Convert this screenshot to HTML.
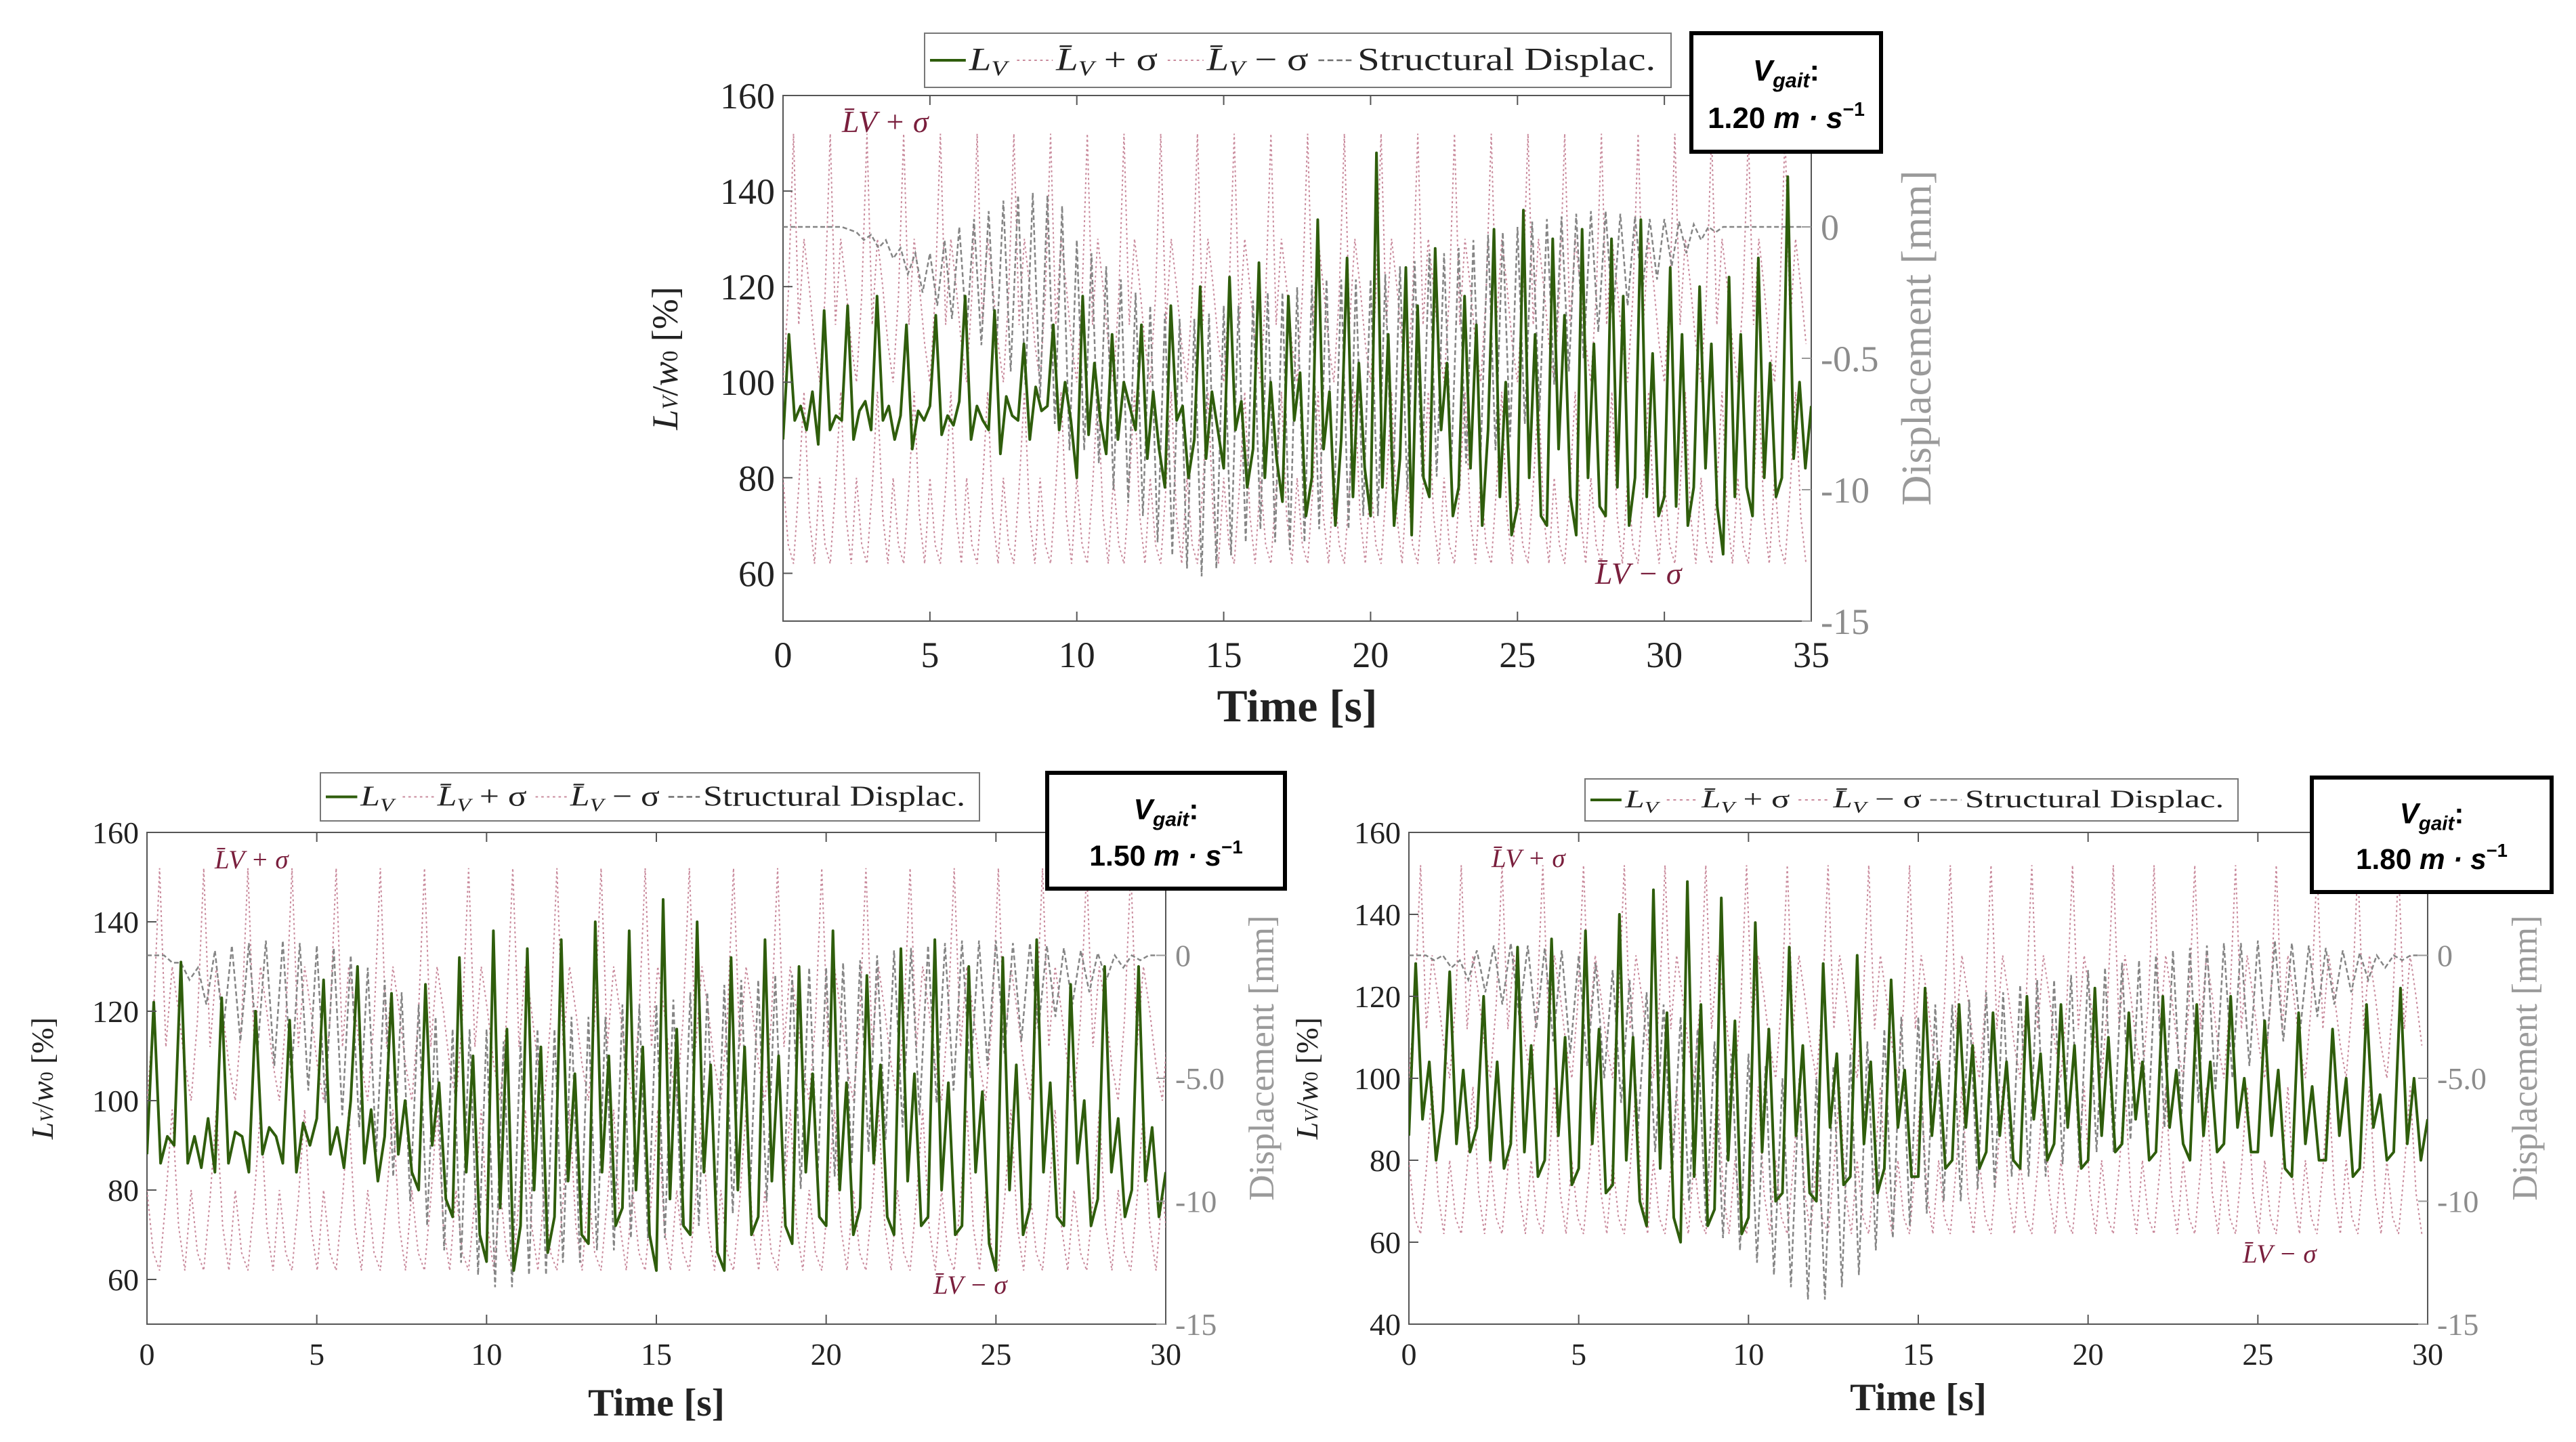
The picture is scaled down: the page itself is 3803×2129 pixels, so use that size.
<!DOCTYPE html>
<html><head><meta charset="utf-8">
<style>
html,body{margin:0;padding:0;background:#fff;}
svg{display:block;font-family:"Liberation Serif",serif;}
</style></head>
<body>
<svg id="root" width="3803" height="2129" viewBox="0 0 3803 2129" xmlns="http://www.w3.org/2000/svg"></svg>
<script>
// ===== DATA =====
// Top chart (1.20 m/s) — L_V / w0 [%], sampled every 0.2 s
const topTimeMax = 35;
const topLoad = [88,110,92,95,90, 98,87,115,90,93, 92,116,88,94,96, 90,118,92,95,88, 93,112,86,94,92,
95,114,89,93,91, 96,118,88,95,92, 90,115,85,97,93, 92,108,88,99,94, 95,112,90,100,92,
80,118,89,104,92, 85,110,88,100,95, 90,112,84,98,86, 78,116,92,95,80, 88,120,84,98,90,
82,122,90,96,78, 86,125,80,100,84, 75,118,92,102,72, 80,134,86,98,70, 88,126,76,104,82,
72,148,78,110,70, 84,124,68,116,80, 76,128,90,104,72, 78,118,82,112,70, 90,132,76,100,68,
74,136,80,110,72, 70,130,86,114,76, 68,132,80,108,74, 72,130,78,118,70, 80,134,76,106,72,
76,124,74,110,70, 78,120,82,108,74, 64,122,76,110,78, 72,126,80,104,76, 80,143,84,100,82, 95];
// displacement [mm], per 0.5 s cycle: max then min
const topDispMax = [0,0,0,0,0,-0.2,-0.3,-0.5,-0.8,-1, -1,-0.5,0,0.3,0.6,1,1.2,1.3,1.2,0.8,
-0.5,-1,-1.5,-2,-2.5,-3,-3.3,-3.5,-3.5,-3.3, -3,-3,-2.8,-2.5,-2.5,-2.3,-2.2,-2,-2,-2,
-2,-1.8,-1.5,-1.3,-1,-1,-0.8,-0.5,-0.3,-0.2, 0,0.2,0.3,0.4,0.5,0.6,0.6,0.5,0.4,0.3,
0.3,0.2,0.1,0,0,0,0,0,0,0];
const topDispMin = [0,0,0,0,-0.1,-0.5,-0.8,-1.2,-1.8,-2.5, -3,-3.5,-4,-4.5,-5,-5.5,-6,-6.5,-7.5,-8.5,
-8.5,-9,-10,-10.5,-11,-12,-12.5,-13,-13.3,-13, -12.5,-12,-11.5,-12,-12.3,-12,-11.5,-11,-11.5,-11,
-11,-10.5,-10,-9.5,-9.5,-9,-9,-8.5,-8.5,-8, -7.5,-7,-6,-5.5,-5,-4,-3.5,-3,-2.5,-2,
-1.5,-1,-0.5,-0.2,0,0,0,0,0,0];

// Bottom-left (1.50 m/s)
const blTimeMax = 30;
const blLoad = [88,122,86,92,90, 131,86,92,85,96, 84,123,86,93,92, 84,120,88,94,92, 86,118,84,95,90,
96,127,88,94,85, 100,130,86,98,82, 92,124,88,100,84, 80,126,90,104,78, 74,132,84,110,70,
64,138,76,116,62, 72,134,80,112,66, 74,136,82,106,70, 68,140,84,110,72, 76,138,80,112,70,
62,145,78,116,72, 70,140,84,108,66, 62,132,80,112,70, 74,136,82,110,72, 68,130,84,106,74,
72,138,80,104,70, 76,128,86,108,74, 70,134,82,106,72, 74,136,80,104,70, 72,130,84,102,68,
62,132,80,108,70, 76,136,84,104,74, 72,126,86,100,72, 78,130,84,96,74, 80,130,82,94,74, 84];
const blDispMax = [0,0,-0.3,-0.5,0.2,0.4,0.5,0.6,0.6,0.5, 0.4,0.3,0,-0.5,-1,-1.5,-2,-2.5,-3,-3,
-3,-3.5,-3.5,-3,-3,-2.5,-2.5,-2.5,-2,-2, -2,-1.8,-1.5,-1.5,-1.2,-1,-1,-0.8,-0.8,-0.5,
-0.5,-0.3,-0.2,0,0.2,0.3,0.4,0.5,0.6,0.6, 0.6,0.5,0.5,0.4,0.3,0.2,0.1,0,0,0];
const blDispMin = [0,-0.3,-1,-2,-3,-3.5,-4,-4.5,-5,-5.5, -6,-6.5,-7,-8,-9,-10,-11,-12,-12.5,-13,
-13.5,-13.5,-13,-13,-12.5,-12.5,-12,-12,-11.5,-11.5, -11.5,-11,-11,-10.5,-10.5,-10,-10,-9.5,-9.5,-9,
-9,-8.5,-8,-7.5,-7,-6.5,-6,-5.5,-5,-4.5, -4,-3.5,-3,-2.5,-2,-1.5,-1,-0.5,-0.2,0];

// Bottom-right (1.80 m/s)
const brTimeMax = 30;
const brLoad = [86,128,90,104,80, 92,126,84,102,82, 88,120,80,104,78, 84,132,82,108,76, 80,134,86,110,74,
78,136,84,112,72, 74,140,80,110,70, 64,146,78,116,66, 60,148,76,118,64, 68,144,80,114,62,
66,138,82,112,70, 72,132,86,108,72, 70,128,88,106,74, 76,130,84,104,72, 78,124,88,102,76,
76,122,86,104,78, 80,118,88,108,78, 82,116,86,104,80, 78,120,90,106,80, 84,118,88,108,78,
80,122,86,110,82, 84,116,90,104,80, 82,120,88,102,84, 80,118,86,104,82, 84,120,88,100,82,
82,114,86,102,78, 76,116,84,98,80, 80,112,86,100,76, 78,118,88,96,80, 82,122,84,100,80, 90];
const brDispMax = [0,0,0,-0.2,0.2,0.4,0.5,0.4,0.3,0.2, 0,-0.3,-0.6,-1,-1.5,-2,-2.5,-3,-3.5,-4,
-4,-4.5,-5,-5,-5,-4.5,-4,-3.5,-3,-2.5, -2.5,-2,-2,-1.8,-1.5,-1.5,-1.2,-1,-1,-0.8,
-0.6,-0.5,-0.3,-0.2,0,0.2,0.3,0.4,0.5,0.5, 0.6,0.6,0.5,0.4,0.3,0.2,0.1,0,0,0];
const brDispMin = [0,-0.2,-0.5,-1,-1.5,-2,-2.5,-3,-3.5,-4, -4.5,-5,-6,-7,-8,-9,-10,-11,-11.5,-12,
-12.5,-13,-13.5,-14,-14,-13.5,-13,-12,-11.5,-11, -10.5,-10,-10,-9.5,-9.5,-9,-9,-9,-8.5,-8.5,
-8,-8,-7.5,-7.5,-7,-6.5,-6,-5.5,-5,-4.5, -4,-3.5,-3,-2.5,-2,-1.5,-1,-0.5,-0.2,0];

// Mean ± sigma envelope: one gait-step template (values in %)
const upperStep = [100,118,152,112,130,120,108,100];
const lowerStep = [80,66,62,78,98,72,62,80];
const stepPeriods = [1.25, 1.3, 1.2]; // seconds per step for top, bottom-left, bottom-right

const yTicksA = [60,80,100,120,140,160];
const yTicksB = [40,60,80,100,120,140,160];
const rTickVals = [0,-5,-10,-15];
const rTickLabelsTop = ['0','-0.5','-10','-15'];
const rTickLabelsBot = ['0','-5.0','-10','-15'];
const speeds = ['1.20','1.50','1.80'];

// ===== DRAW =====
const NS='http://www.w3.org/2000/svg';
const root=document.getElementById('root');
function mk(tag,attrs,parent){const e=document.createElementNS(NS,tag);for(const k in attrs)e.setAttribute(k,attrs[k]);(parent||root).appendChild(e);return e;}
const ENV='#c98a9c';

function drawChart(c){
  const g=mk('g',{});
  
  
  const sx=t=>c.L+(t/c.xmax)*(c.R-c.L);
  const sy=v=>c.B-(v-c.ymin)/(c.ymax-c.ymin)*(c.B-c.T);
  const sr=v=>c.B-(v-(-15))/(5-(-15))*(c.B-c.T);
  const clip='clip-'+c.name;
  const cp=mk('clipPath',{id:clip},g);mk('rect',{x:c.L,y:c.T,width:c.R-c.L,height:c.B-c.T},cp);
  const frame=mk('rect',{x:c.L,y:c.T,width:c.R-c.L,height:c.B-c.T,fill:'none',stroke:'#555','stroke-width':2},g);
  
  
  const n=upperStep.length-1;
  let up='',lo='';
  const steps=Math.ceil(c.xmax/c.period);
  for(let s=0;s<steps;s++){for(let i=0;i<n;i++){const t=(s+i/n)*c.period;up+=(up?'L':'M')+sx(t).toFixed(1)+','+sy(upperStep[i]).toFixed(1);lo+=(lo?'L':'M')+sx(t).toFixed(1)+','+sy(lowerStep[i]).toFixed(1);}}
  const pu=mk('path',{d:up,fill:'none',stroke:ENV,'stroke-width':2,'stroke-dasharray':'3 4','clip-path':'url(#'+clip+')'},g);
  
  
  const pl=mk('path',{d:lo,fill:'none',stroke:ENV,'stroke-width':2,'stroke-dasharray':'3 4','clip-path':'url(#'+clip+')'},g);
  
  
  let dd='';
  for(let i=0;i<c.dmax.length;i++){const t0=i*0.5;dd+=(dd?'L':'M')+sx(t0).toFixed(1)+','+sr(c.dmax[i]).toFixed(1)+'L'+sx(t0+0.25).toFixed(1)+','+sr(c.dmin[i]).toFixed(1);}
  const pd=mk('path',{d:dd,fill:'none',stroke:'#858585','stroke-width':2.5,'stroke-dasharray':'7 4','clip-path':'url(#'+clip+')'},g);
  
  
  let ld='';
  c.load.forEach((v,i)=>{ld+=(i?'L':'M')+sx(i*0.2).toFixed(1)+','+sy(v).toFixed(1);});
  const pg=mk('path',{d:ld,fill:'none',stroke:'#2f5d0c','stroke-width':4,'stroke-linejoin':'round','clip-path':'url(#'+clip+')'},g);
  
  
  for(let t=0;t<=c.xmax;t+=5){
    mk('line',{x1:sx(t),x2:sx(t),y1:c.B,y2:c.B-14,stroke:'#555','stroke-width':2},g);
    mk('line',{x1:sx(t),x2:sx(t),y1:c.T,y2:c.T+14,stroke:'#555','stroke-width':2},g);
    const tx=mk('text',{x:sx(t),y:c.B+c.fs+14,'font-size':c.fs,'text-anchor':'middle',fill:'#222'},g);
    tx.textContent=t;
    
    
  }
  c.yticks.forEach(v=>{
    mk('line',{x1:c.L,x2:c.L+14,y1:sy(v),y2:sy(v),stroke:'#555','stroke-width':2},g);
    const ty=mk('text',{x:c.L-12,y:sy(v)+c.fs*0.35,'font-size':c.fs,'text-anchor':'end',fill:'#222'},g);
    ty.textContent=v;
    
    
  });
  rTickVals.forEach((v,i)=>{
    mk('line',{x1:c.R,x2:c.R-14,y1:sr(v),y2:sr(v),stroke:'#999','stroke-width':2},g);
    const tr=mk('text',{x:c.R+14,y:sr(v)+c.fs*0.35,'font-size':c.fs,fill:'#8c8c8c'},g);
    tr.textContent=c.rlabels[i];
    
    
  });
  const xl=mk('text',{x:(c.L+c.R)/2,y:c.xlY,'font-size':c.fs*1.25,'font-weight':'bold','text-anchor':'middle',fill:'#222'},g);
  xl.textContent='Time [s]';
  
  
  const yl=mk('text',{x:0,y:0,'font-size':c.fs*1.0,'text-anchor':'middle',fill:'#222',transform:`translate(${c.ylX},${(c.T+c.B)/2}) rotate(-90)`},g);
  yl.innerHTML='<tspan font-style="italic">L</tspan><tspan font-size="'+(c.fs*0.6)+'" font-style="italic">V</tspan>/<tspan font-style="italic">w</tspan><tspan font-size="'+(c.fs*0.6)+'">0</tspan>  [%]';
  
  
  const rl=mk('text',{x:0,y:0,'font-size':c.fs*1.15,'text-anchor':'middle',fill:'#9a9a9a',transform:`translate(${c.rlX},${(c.T+c.B)/2-30}) rotate(-90)`},g);
  rl.textContent='Displacement [mm]';
  
  
  const a1=mk('text',{x:c.a1[0],y:c.a1[1],'font-size':c.fs*0.85,fill:'#7a1f3d','font-style':'italic'},g);
  a1.textContent='L̄V + σ';
  
  
  const a2=mk('text',{x:c.a2[0],y:c.a2[1],'font-size':c.fs*0.85,fill:'#7a1f3d','font-style':'italic'},g);
  a2.textContent='L̄V − σ';
  
  
  // legend (sequential layout, fitted into box)
  const [lx,ly,lw,lh]=c.leg;
  const lg=mk('g',{},g);
  
  
  mk('rect',{x:lx,y:ly,width:lw,height:lh,fill:'#fff',stroke:'#777','stroke-width':2},lg);
  const inner=mk('g',{},lg);
  const lf=lh*0.6, ty=ly+lh*0.68, ll=lf*0.9;
  const items=[['#2f5d0c','','4','L','V',''],[ENV,'3 4','2','L̄','V',' + σ'],[ENV,'3 4','2','L̄','V',' − σ'],['#6e6e6e','7 4','2.5','Structural Displac.','','']];
  let x=0;
  items.forEach(it=>{
    mk('line',{x1:x,x2:x+ll,y1:ly+lh/2,y2:ly+lh/2,stroke:it[0],'stroke-width':it[2],'stroke-dasharray':it[1]},inner);
    const t=mk('text',{x:x+ll+4,y:ty,'font-size':lf,fill:'#222'},inner);
    t.innerHTML=it[4]?`<tspan font-style="italic">${it[3]}</tspan><tspan font-style="italic" font-size="${lf*0.65}" dy="8">${it[4]}</tspan><tspan dy="-8">${it[5]}</tspan>`:it[3];
    
    
    x+=ll+4+t.getComputedTextLength()+lf*0.25;
  });
  const sc=(lw-16)/x;
  inner.setAttribute('transform',`translate(${lx+8},${ly+lh/2}) scale(${sc},1) translate(0,${-(ly+lh/2)})`);
  const [bx,by,bw,bh]=c.box;
  const bg=mk('g',{},g);
  
  
  mk('rect',{x:bx,y:by,width:bw,height:bh,fill:'#fff',stroke:'#000','stroke-width':6},bg);
  const bf=bh*0.25;
  const t1=mk('text',{x:bx+bw/2,y:by+bh*0.4,'font-size':bf,'text-anchor':'middle','font-family':'Liberation Sans, sans-serif','font-weight':'bold'},bg);
  t1.innerHTML=`<tspan font-style="italic">V</tspan><tspan font-style="italic" font-size="${bf*0.7}" dy="10">gait</tspan><tspan dy="-10">:</tspan>`;
  
  
  const t2=mk('text',{x:bx+bw/2,y:by+bh*0.8,'font-size':bf,'text-anchor':'middle','font-family':'Liberation Sans, sans-serif','font-weight':'bold'},bg);
  t2.innerHTML=`${c.speed} <tspan font-style="italic">m · s</tspan><tspan font-size="${bf*0.65}" dy="-18">−1</tspan>`;
  
  
}

drawChart({name:'chart-1-20',L:1156,R:2674,T:141,B:917,xmax:topTimeMax,ymin:50,ymax:160,yticks:yTicksA,rlabels:rTickLabelsTop,
  load:topLoad,dmax:topDispMax,dmin:topDispMin,period:stepPeriods[0],fs:54,xlY:1065,ylX:1000,rlX:2850,
  a1:[1243,195],a2:[2355,862],leg:[1365,49,1102,80],box:[2497,49,280,175],speed:speeds[0]});
drawChart({name:'chart-1-50',L:217,R:1721,T:1229,B:1955,xmax:blTimeMax,ymin:50,ymax:160,yticks:yTicksA,rlabels:rTickLabelsBot,
  load:blLoad,dmax:blDispMax,dmin:blDispMin,period:stepPeriods[1],fs:46,xlY:2090,ylX:78,rlX:1880,
  a1:[317,1282],a2:[1378,1910],leg:[473,1141,973,71],box:[1546,1141,351,171],speed:speeds[1]});
drawChart({name:'chart-1-80',L:2080,R:3584,T:1229,B:1955,xmax:brTimeMax,ymin:40,ymax:160,yticks:yTicksB,rlabels:rTickLabelsBot,
  load:brLoad,dmax:brDispMax,dmin:brDispMin,period:stepPeriods[2],fs:46,xlY:2082,ylX:1945,rlX:3745,
  a1:[2202,1280],a2:[3311,1864],leg:[2340,1150,964,62],box:[3413,1148,354,169],speed:speeds[2]});
</script>
</body></html>
